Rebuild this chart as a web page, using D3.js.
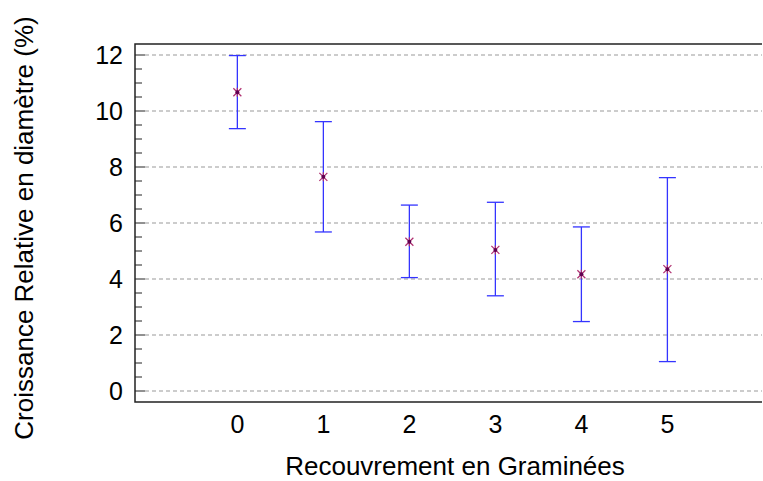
<!DOCTYPE html>
<html>
<head>
<meta charset="utf-8">
<script src="https://cdn.jsdelivr.net/npm/d3@7"></script>
<style>
  body { margin: 0; background: #fff; }
  text { font-family: "Liberation Sans", Arial, sans-serif; fill: #000; }
</style>
</head>
<body>
<svg id="chart" width="763" height="481"></svg>
<script>
// Values
const categories = [0, 1, 2, 3, 4, 5];
const means      = [10.67, 7.65, 5.33, 5.04, 4.17, 4.35];
const upper      = [11.98, 9.62, 6.64, 6.74, 5.86, 7.62];
const lower      = [9.37, 5.68, 4.05, 3.40, 2.48, 1.05];
const yTicks     = [0, 2, 4, 6, 8, 10, 12];

const xLabel = "Recouvrement en Graminées";
const yLabel = "Croissance Relative en diamètre (%)";

const svg = d3.select("#chart");

const plotLeft = 135, plotRight = 762, plotTop = 44, plotBottom = 402;
const fontSize = 25;

const x = d3.scaleLinear().domain([-1.19, 6.1]).range([plotLeft, plotRight]);
const y = d3.scaleLinear().domain([0, 12]).range([391, 55]);

// gridlines
svg.append("g")
    .selectAll("line")
    .data(yTicks)
    .join("line")
        .attr("x1", plotLeft + 10)
        .attr("x2", plotRight)
        .attr("y1", d => y(d))
        .attr("y2", d => y(d))
        .attr("stroke", "#999")
        .attr("stroke-width", 1)
        .attr("stroke-dasharray", "4,3");

// frame: left, top, bottom
svg.append("path")
    .attr("d", `M${plotRight},${plotTop}H${plotLeft}V${plotBottom}H${plotRight}`)
    .attr("fill", "none")
    .attr("stroke", "#222")
    .attr("stroke-width", 1.5);

// y ticks (inside), major + minor every 0.5
const minor = d3.range(0, 12.01, 0.5).filter(v => v % 2 !== 0);
svg.append("g")
    .selectAll("line")
    .data(minor)
    .join("line")
        .attr("x1", plotLeft).attr("x2", plotLeft + 7)
        .attr("y1", d => y(d)).attr("y2", d => y(d))
        .attr("stroke", "#222");
svg.append("g")
    .selectAll("line")
    .data(yTicks)
    .join("line")
        .attr("x1", plotLeft).attr("x2", plotLeft + 10)
        .attr("y1", d => y(d)).attr("y2", d => y(d))
        .attr("stroke", "#222");

// y tick labels
svg.append("g")
    .selectAll("text")
    .data(yTicks)
    .join("text")
        .attr("x", plotLeft - 12)
        .attr("y", d => y(d))
        .attr("dy", "0.36em")
        .attr("text-anchor", "end")
        .attr("font-size", fontSize)
        .text(d => d);

// x tick labels
svg.append("g")
    .selectAll("text")
    .data(categories)
    .join("text")
        .attr("x", d => x(d))
        .attr("y", 433)
        .attr("text-anchor", "middle")
        .attr("font-size", fontSize)
        .text(d => d);

// axis titles
svg.append("text")
    .attr("x", 455)
    .attr("y", 475)
    .attr("text-anchor", "middle")
    .attr("font-size", 26)
    .text(xLabel);

svg.append("text")
    .attr("transform", "translate(33,228) rotate(-90)")
    .attr("text-anchor", "middle")
    .attr("font-size", 26)
    .text(yLabel);

// error bars
const bars = svg.append("g").attr("stroke", "#3434ff").attr("stroke-width", 1.3);
categories.forEach((c, i) => {
    const cx = x(c);
    bars.append("line")
        .attr("x1", cx).attr("x2", cx)
        .attr("y1", y(upper[i])).attr("y2", y(lower[i]));
    bars.append("line")
        .attr("x1", cx - 8.5).attr("x2", cx + 8.5)
        .attr("y1", y(upper[i])).attr("y2", y(upper[i]));
    bars.append("line")
        .attr("x1", cx - 8.5).attr("x2", cx + 8.5)
        .attr("y1", y(lower[i])).attr("y2", y(lower[i]));
});

// mean markers (asterisk)
svg.append("g")
    .selectAll("g")
    .data(categories)
    .join("g")
        .attr("transform", (d, i) => `translate(${x(d)},${y(means[i])})`)
        .each(function() {
            const g = d3.select(this);
            g.append("path")
                .attr("d", "M-4,-4L4,4M-4,4L4,-4M0,-4.5V4.5")
                .attr("stroke", "#b03070")
                .attr("stroke-width", 1.2);
            g.append("circle").attr("r", 2).attr("fill", "#600050");
        });
</script>
</body>
</html>
